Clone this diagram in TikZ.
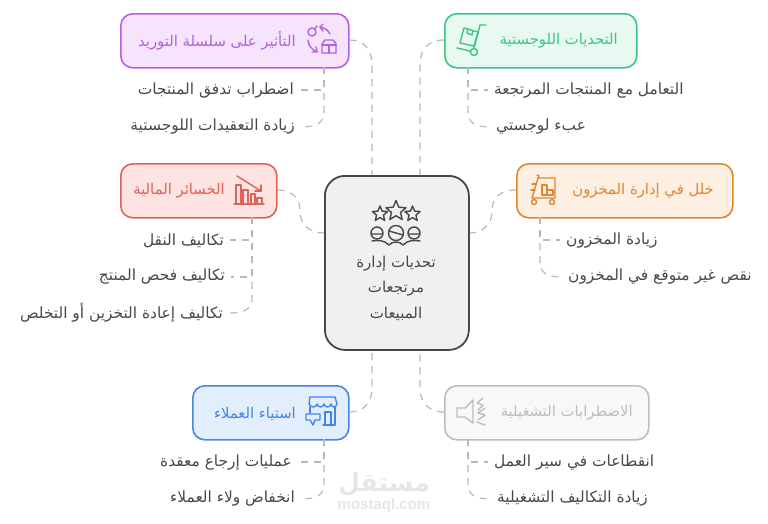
\documentclass[tikz,border=0pt]{standalone}
\usepackage{fontspec}
\setmainfont{Liberation Sans}
\newfontfamily\arabicfont[Script=Arabic]{DejaVu Sans}
\TeXXeTstate=1
\usetikzlibrary{calc}
\definecolor{cpur}{HTML}{B65FE2}\definecolor{fpur}{HTML}{F6E4FD}
\definecolor{cgre}{HTML}{3CC583}\definecolor{fgre}{HTML}{E8F9F1}
\definecolor{cred}{HTML}{E0605A}\definecolor{fred}{HTML}{FDE3E1}
\definecolor{cora}{HTML}{E08530}\definecolor{fora}{HTML}{FDF0E3}
\definecolor{cblu}{HTML}{4485E8}\definecolor{fblu}{HTML}{E3EEFD}
\definecolor{cgry}{HTML}{BDBDBD}\definecolor{fgry}{HTML}{F8F8F8}
\definecolor{ccen}{HTML}{474747}\definecolor{fcen}{HTML}{F0F0F0}
\definecolor{ctxt}{HTML}{484848}\definecolor{clin}{HTML}{B8B8B8}\definecolor{cwm}{HTML}{E6E6E6}
\newcommand{\ar}[1]{\beginR #1\endR}
\tikzset{
 x=1pt,y=-1pt,
 boxstyle/.style={rectangle,rounded corners=12pt,line width=1.6pt,inner sep=0pt},
 sublabel/.style={text=ctxt,font=\arabicfont\fontsize{15.4}{17}\selectfont,inner sep=6pt},
 title/.style={font=\arabicfont\fontsize{14.8}{17}\selectfont,inner sep=0pt},
 link/.style={draw=clin,line width=1.2pt,dash pattern=on 7pt off 6pt},
 ico/.style={line width=1.4pt,line join=round,line cap=round,fill=none},
}
\newcommand{\mybox}[8]{%
 \node[boxstyle,draw=#6,fill=#7,minimum width=#4 pt-#2 pt,minimum height=#5 pt-#3 pt,anchor=north west] (#1) at (#2,#3) {};}
\newcommand{\mystar}[3]{%
 \draw ($(#1,#2)+(-90:#3)$) -- ($(#1,#2)+(-54:0.45*#3)$) -- ($(#1,#2)+(-18:#3)$) -- ($(#1,#2)+(18:0.45*#3)$) -- ($(#1,#2)+(54:#3)$) -- ($(#1,#2)+(90:0.45*#3)$) -- ($(#1,#2)+(126:#3)$) -- ($(#1,#2)+(162:0.45*#3)$) -- ($(#1,#2)+(198:#3)$) -- ($(#1,#2)+(234:0.45*#3)$) -- cycle;}
\begin{document}
\begin{tikzpicture}
\useasboundingbox (0,0) rectangle (768,523);
% boxes
\mybox{pur}{120}{13}{348}{67}{cpur}{fpur}{}
\mybox{gre}{444}{13}{636}{67}{cgre}{fgre}{}
\mybox{red}{120}{163}{276}{217}{cred}{fred}{}
\mybox{ora}{516}{163}{732}{217}{cora}{fora}{}
\mybox{blu}{192}{385}{348}{439}{cblu}{fblu}{}
\mybox{gry}{444}{385}{648}{439}{cgry}{fgry}{}
\node[rectangle,rounded corners=20pt,line width=1.8pt,draw=ccen,fill=fcen,minimum width=144pt,minimum height=174pt,anchor=north west,inner sep=0pt] (cen) at (324,175) {};
% titles
\node[title,text=cpur,anchor=east] (tpur) at (296,41) {\ar{التأثير على سلسلة التوريد}};
\node[title,text=cgre,anchor=east] (tgre) at (618,41) {\ar{التحديات اللوجستية}};
\node[title,text=cred,anchor=east] (tred) at (225,191) {\ar{الخسائر المالية}};
\node[title,text=cora,anchor=east] (tora) at (714,191) {\ar{خلل في إدارة المخزون}};
\node[title,text=cblu,anchor=east] (tblu) at (296,414) {\ar{استياء العملاء}};
\node[title,text=cgry,anchor=east] (tgry) at (633,413) {\ar{الاضطرابات التشغيلية}};
% centre text
\node[font=\arabicfont\fontsize{15}{17}\selectfont,text=ctxt] (tcen1) at (396,264) {\ar{تحديات إدارة}};
\node[font=\arabicfont\fontsize{15}{17}\selectfont,text=ctxt] (tcen2) at (396,289) {\ar{مرتجعات}};
\node[font=\arabicfont\fontsize{15}{17}\selectfont,text=ctxt] (tcen3) at (396,314) {\ar{المبيعات}};
% sub labels
\node[sublabel,anchor=east] (p1) at (300,91) {\ar{اضطراب تدفق المنتجات}};
\node[sublabel,anchor=east] (p2) at (301,127) {\ar{زيادة التعقيدات اللوجستية}};
\node[sublabel,anchor=west] (g1) at (488,91) {\ar{التعامل مع المنتجات المرتجعة}};
\node[sublabel,anchor=west] (g2) at (490,127) {\ar{عبء لوجستي}};
\node[sublabel,anchor=east] (r1) at (230,241) {\ar{تكاليف النقل}};
\node[sublabel,anchor=east] (r2) at (231,277) {\ar{تكاليف فحص المنتج}};
\node[sublabel,anchor=east] (r3) at (229,313) {\ar{تكاليف إعادة التخزين أو التخلص}};
\node[sublabel,anchor=west] (o1) at (560,241) {\ar{زيادة المخزون}};
\node[sublabel,anchor=west] (o2) at (562,277) {\ar{نقص غير متوقع في المخزون}};
\node[sublabel,anchor=east] (b1) at (298,463) {\ar{عمليات إرجاع معقدة}};
\node[sublabel,anchor=east] (b2) at (301,499) {\ar{انخفاض ولاء العملاء}};
\node[sublabel,anchor=west] (y1) at (488,463) {\ar{انقطاعات في سير العمل}};
\node[sublabel,anchor=west] (y2) at (491,499) {\ar{زيادة التكاليف التشغيلية}};
% main links
\draw[link] (pur.east |- 0,40) .. controls (364,40) and (372,50) .. (372,64) -- (372,175);
\draw[link] (gre.west |- 0,40) .. controls (428,40) and (420,50) .. (420,64) -- (420,175);
\draw[link] (red.east |- 0,190) .. controls (292,190) and (300,198) .. (300,211) .. controls (300,225) and (310,233) .. (cen.west |- 0,233);
\draw[link] (ora.west |- 0,190) .. controls (500,190) and (492,198) .. (492,211) .. controls (492,225) and (482,233) .. (cen.east |- 0,233);
\draw[link] (blu.east |- 0,412) .. controls (364,412) and (372,402) .. (372,388) -- (372,349);
\draw[link] (gry.west |- 0,412) .. controls (428,412) and (420,402) .. (420,388) -- (420,349);
% sub links
\coordinate (pt) at (324,67);\coordinate (gt) at (468,67);\coordinate (rt) at (252,217);
\coordinate (ot) at (540,217);\coordinate (bt) at (324,439);\coordinate (yt) at (468,439);
\draw[link] (pt) -- (324,90) -- (p1.east |- 0,90);
\draw[link] (pt) -- (324,112) .. controls (324,122) and (318,127) .. (p2.east |- 0,127);
\draw[link] (gt) -- (468,90) -- (g1.west |- 0,90);
\draw[link] (gt) -- (468,112) .. controls (468,122) and (474,127) .. (g2.west |- 0,127);
\draw[link] (rt) -- (252,240) -- (r1.east |- 0,240);
\draw[link] (rt) -- (252,277) -- (r2.east |- 0,277);
\draw[link] (rt) -- (252,298) .. controls (252,308) and (246,313) .. (r3.east |- 0,313);
\draw[link] (ot) -- (540,240) -- (o1.west |- 0,240);
\draw[link] (ot) -- (540,262) .. controls (540,272) and (546,277) .. (o2.west |- 0,277);
\draw[link] (bt) -- (324,462) -- (b1.east |- 0,462);
\draw[link] (bt) -- (324,484) .. controls (324,494) and (318,499) .. (b2.east |- 0,499);
\draw[link] (yt) -- (468,462) -- (y1.west |- 0,462);
\draw[link] (yt) -- (468,484) .. controls (468,494) and (474,499) .. (y2.west |- 0,499);
% watermark
\node[font=\arabicfont\bfseries\fontsize{25}{27}\selectfont,text=cwm,inner sep=0pt] (wm1) at (384,484) {\ar{مستقل}};
\node[font=\bfseries\fontsize{15}{16}\selectfont,text=cwm,inner sep=0pt] (wm2) at (384,506) {mostaql.com};
% icon purple
\begin{scope}[ico,draw=cpur]
 \draw (312,32) circle (4);
 \draw (315,28.5) -- (317,26);
 \draw (330,34) .. controls (328,30) and (325,28) .. (320,27);
 \draw (320,27) -- (323,24) (320,27) -- (323,31);
 \draw (308,40) .. controls (308,45) and (312,50) .. (317,52);
 \draw (317,52) -- (312,52) (317,52) -- (316,47);
 \draw (322,53) -- (322,44) -- (325,40) -- (333,40) -- (336,44) -- (336,53) -- cycle;
 \draw (322,45) -- (336,45) (329,45) -- (329,53);
\end{scope}
% icon green
\begin{scope}[ico,draw=cgre]
 \draw (464,28) -- (478,32) -- (474,46) -- (460,43) -- cycle;
 \draw (468,29) -- (467,33) -- (472,35) -- (473,31);
 \draw (486,25) -- (480,25) -- (474,48);
 \draw (457,48) -- (470,51);
 \draw (474,52) circle (3.5);
\end{scope}
% icon red
\begin{scope}[ico,draw=cred]
 \draw (237,176) -- (261,191);
 \draw (261,191) -- (255,191) (261,191) -- (261,185);
 \draw (234,204) -- (264,204);
 \draw (236,204) -- (236,185) -- (241,185) -- (241,204);
 \draw (243,204) -- (243,190) -- (248,190) -- (248,204);
 \draw (251,204) -- (251,194) -- (255,194) -- (255,204);
 \draw (257,204) -- (257,198) -- (262,198) -- (262,204);
\end{scope}
% icon orange
\begin{scope}[ico,draw=cora]
 \draw (537,175) .. controls (539,174) and (540,177) .. (538,178) -- (555,178) -- (555,198) -- (532,198);
 \draw (538,178) -- (532,198);
 \draw (532,184) -- (536,184) (531,190) -- (535,190);
 \draw (542,195) -- (542,185) -- (547,185) -- (547,195) -- cycle;
 \draw (547,195) -- (547,190) -- (553,190) -- (553,195) -- (547,195);
 \draw (534,202) circle (2.5) (552,202) circle (2.5);
\end{scope}
% icon blue
\begin{scope}[ico,draw=cblu]
 \draw (310,397) -- (335,397) -- (337,404) .. controls (336,408) and (332,408) .. (331,404) .. controls (330,408) and (325,408) .. (324,404) .. controls (323,408) and (318,408) .. (317,404) .. controls (316,408) and (311,408) .. (309,404) -- cycle;
 \draw (310,407) -- (310,413) (335,407) -- (335,425) -- (323,425);
 \draw (325,425) -- (325,412) -- (331,412) -- (331,425);
 \draw (306,414) -- (320,414) -- (320,420) -- (315,420) -- (313,425) -- (310,420) -- (306,420) -- cycle;
\end{scope}
% icon gray
\begin{scope}[ico,draw=cgry]
 \draw (457,408) -- (465,408) -- (473,400) -- (473,423) -- (465,417) -- (457,417) -- cycle;
 \draw (483,398) -- (477,403) -- (483,405) -- (478,410);
 \draw (485,408) -- (478,413) -- (485,415) -- (478,420);
 \draw (477,422) -- (485,425);
\end{scope}
% icon centre
\begin{scope}[ico,draw=ccen]
 \mystar{396}{211}{10.5}
 \mystar{380}{214}{8}
 \mystar{412.5}{214}{8}
 \draw (396,233) circle (7.5) (389,231) -- (403,235);
 \draw (377,233) circle (6) (371,234) -- (383,234);
 \draw (414,233) circle (6) (408,234) -- (420,234);
 \draw (372,241) .. controls (378,240) and (384,240) .. (389,245) .. controls (392,241) and (400,241) .. (403,245) .. controls (408,240) and (414,240) .. (420,241);
\end{scope}
\end{tikzpicture}
\end{document}
